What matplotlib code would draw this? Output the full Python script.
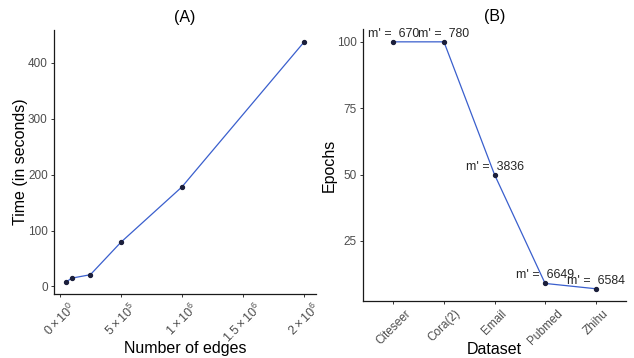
import numpy as np
import matplotlib
matplotlib.use("Agg")
import matplotlib.pyplot as plt

plt.rcParams['font.family'] = ['Liberation Sans', 'DejaVu Sans']
plt.rcParams['mathtext.fontset'] = 'custom'
plt.rcParams['mathtext.rm'] = 'Liberation Sans'
plt.rcParams['mathtext.it'] = 'Liberation Sans:italic'

# (A) runtime vs number of edges
edges = [50000, 100000, 250000, 500000, 1000000, 2000000]
times = [8, 15, 21, 79, 178, 437]
edge_ticks = [0, 500000, 1000000, 1500000, 2000000]
edge_labels = [r'$0\times10^{0}$', r'$5\times10^{5}$', r'$1\times10^{6}$',
               r'$1.5\times10^{6}$', r'$2\times10^{6}$']
time_ticks = [0, 100, 200, 300, 400]

# (B) epochs per dataset
datasets = ['Citeseer', 'Cora(2)', 'Email', 'Pubmed', 'Zhihu']
epochs = [100, 100, 50, 9, 7]
m_prime = [670, 780, 3836, 6649, 6584]
epoch_ticks = [25, 50, 75, 100]

line_col = '#3A5FCD'
pt_col = '#1B1F3B'
tick_col = '#4D4D4D'

fig = plt.figure(figsize=(6.34, 3.58), dpi=100)
axA = fig.add_axes([0.0852, 0.1788, 0.4132, 0.7374])
axB = fig.add_axes([0.5726, 0.159, 0.4148, 0.7586])


def style(ax):
    for s in ['top', 'right']:
        ax.spines[s].set_visible(False)
    for s in ['left', 'bottom']:
        ax.spines[s].set_linewidth(0.9)
        ax.spines[s].set_color('#1a1a1a')
    ax.tick_params(length=2.5, width=0.7, color='#333333', labelcolor=tick_col,
                   labelsize=8.5, pad=2)


# panel A
axA.plot(edges, times, color=line_col, lw=0.9, zorder=2)
axA.scatter(edges, times, s=8, color=pt_col, zorder=3)
span = max(edges) - min(edges)
axA.set_xlim(min(edges) - 0.05 * span, max(edges) + 0.05 * span)
tspan = max(times) - min(times)
axA.set_ylim(min(times) - 0.05 * tspan, max(times) + 0.05 * tspan)
axA.set_xticks(edge_ticks)
axA.set_xticklabels(edge_labels, rotation=45)
axA.set_yticks(time_ticks)
style(axA)
axA.tick_params(axis='x', labelsize=9)
axA.set_title('(A)', fontsize=11.5, pad=6)
axA.set_xlabel('Number of edges', fontsize=11.5)
axA.set_ylabel('Time (in seconds)', fontsize=11.5)
axA.xaxis.set_label_coords(0.5, -0.178)
axA.yaxis.set_label_coords(-0.099, 0.5)

# panel B
xpos = np.arange(len(datasets))
axB.plot(xpos, epochs, color=line_col, lw=0.9, zorder=2)
axB.scatter(xpos, epochs, s=8, color=pt_col, zorder=3)
for xi, yi, m in zip(xpos, epochs, m_prime):
    axB.annotate("m' =  %d" % m, (xi, yi), xytext=(0, 5.8),
                 textcoords='offset points', ha='center', va='center',
                 fontsize=8.9, color='#262626', zorder=4)
axB.set_xlim(-0.6, len(datasets) - 0.4)
espan = max(epochs) - min(epochs)
axB.set_ylim(min(epochs) - 0.05 * espan, max(epochs) + 0.05 * espan)
axB.set_xticks(xpos)
axB.set_xticklabels(datasets, rotation=45)
axB.set_yticks(epoch_ticks)
style(axB)
axB.tick_params(axis='x', labelsize=8.5)
axB.set_title('(B)', fontsize=11.5, pad=6)
axB.set_xlabel('Dataset', fontsize=11.5)
axB.set_ylabel('Epochs', fontsize=11.5)
axB.xaxis.set_label_coords(0.5, -0.15)
axB.yaxis.set_label_coords(-0.099, 0.5)

fig.savefig('out.png', dpi=100)
